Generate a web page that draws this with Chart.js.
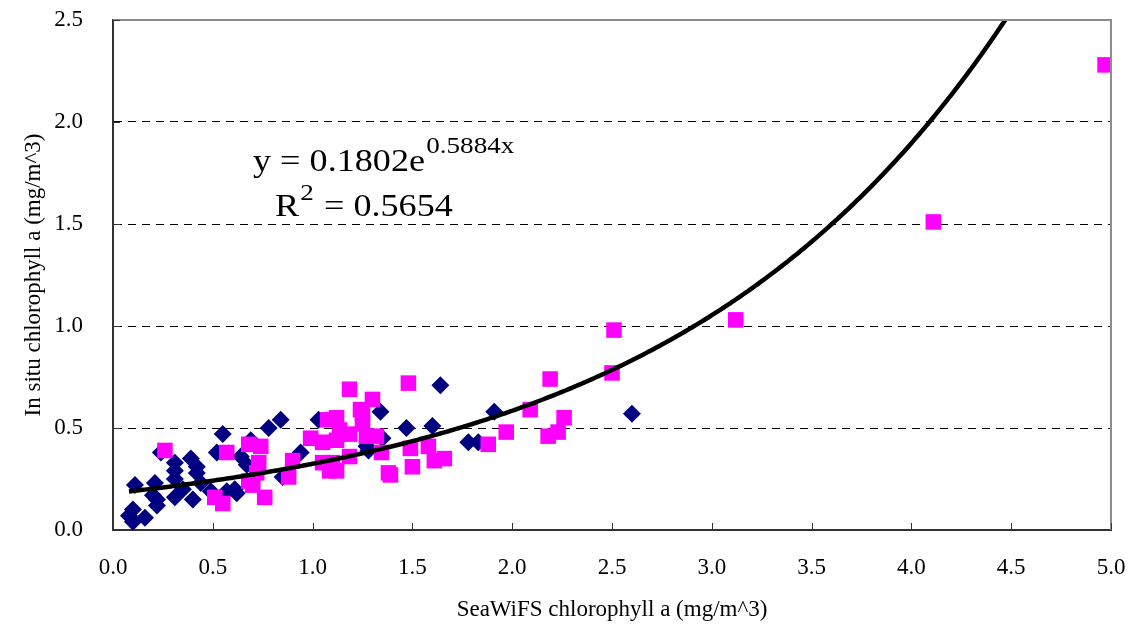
<!DOCTYPE html>
<html>
<head>
<meta charset="utf-8">
<title>SeaWiFS vs in situ chlorophyll a</title>
<script src="https://cdn.jsdelivr.net/npm/chart.js@4.4.1/dist/chart.umd.min.js"></script>
<style>
  html, body { margin: 0; padding: 0; background: #fff; }
  canvas { display: block; }
</style>
</head>
<body>
<canvas id="chl" width="1131" height="631"></canvas>
<script>
// match-up points: SeaWiFS chlorophyll (x) vs in situ chlorophyll (y), mg/m^3
const blueX = [0.10, 0.08, 0.10, 0.11, 0.16, 0.20, 0.21, 0.22, 0.22, 0.24,
               0.31, 0.31, 0.31, 0.31, 0.35, 0.39, 0.42, 0.42, 0.44, 0.40,
               0.49, 0.55, 0.52, 0.57, 0.61, 0.62, 0.64, 0.67, 0.69, 0.78,
               0.84, 0.85, 0.94, 1.03, 1.27, 1.28, 1.34, 1.35, 1.47, 1.60,
               1.64, 1.78, 1.83, 1.91, 2.60];
const blueY = [0.04, 0.07, 0.10, 0.22, 0.06, 0.17, 0.23, 0.15, 0.12, 0.38,
               0.33, 0.29, 0.25, 0.16, 0.20, 0.35, 0.31, 0.28, 0.23, 0.15,
               0.19, 0.47, 0.38, 0.19, 0.20, 0.18, 0.36, 0.32, 0.44, 0.50,
               0.54, 0.26, 0.38, 0.54, 0.41, 0.39, 0.58, 0.45, 0.50, 0.51,
               0.71, 0.43, 0.43, 0.58, 0.57];

const pinkX = [0.26, 0.51, 0.55, 0.57, 0.68, 0.74, 0.73, 0.72, 0.68, 0.70,
               0.76, 0.90, 0.88, 0.99, 1.05, 1.05, 1.10, 1.085, 1.12, 1.12,
               1.075, 1.12, 1.185, 1.135, 1.24, 1.25, 1.185, 1.185, 1.30, 1.25,
               1.27, 1.32, 1.345, 1.38, 1.39, 1.48, 1.49, 1.50, 1.58, 1.61,
               1.66, 1.88, 1.97, 2.09, 2.19, 2.18, 2.23, 2.26, 2.50, 2.51,
               3.12, 4.11, 4.97];
const pinkY = [0.39, 0.16, 0.13, 0.38, 0.42, 0.41, 0.33, 0.28, 0.24, 0.22,
               0.16, 0.34, 0.26, 0.45, 0.43, 0.33, 0.33, 0.29, 0.29, 0.55,
               0.54, 0.44, 0.47, 0.49, 0.59, 0.52, 0.69, 0.36, 0.64, 0.57,
               0.46, 0.46, 0.38, 0.28, 0.27, 0.72, 0.40, 0.31, 0.41, 0.34,
               0.35, 0.42, 0.48, 0.59, 0.74, 0.46, 0.48, 0.55, 0.77, 0.98,
               1.03, 1.51, 2.28];

const xTicks = [0, 0.5, 1, 1.5, 2, 2.5, 3, 3.5, 4, 4.5, 5];
const yTicks = [0, 0.5, 1, 1.5, 2, 2.5];

// exponential trendline fitted to all points
const FIT_A = 0.1802;
const FIT_B = 0.5884;
const FIT_R2 = 0.5654;

const toPoints = (xs, ys) => xs.map((x, i) => ({ x: x, y: ys[i] }));

const allX = blueX.concat(pinkX);
const fitStart = Math.min(...allX);
const fitEnd = Math.max(...allX);
const fitLine = [];
for (let x = fitStart; x <= fitEnd + 1e-9; x += 0.01) {
  fitLine.push({ x: x, y: FIT_A * Math.exp(FIT_B * x) });
}

const SERIF = "'Liberation Serif', 'Times New Roman', serif";
const STRETCH = 1.13;

// no extra room for overhanging tick labels, the layout padding covers it
const noLabelPadding = s => {
  s.paddingLeft = 0;
  s.paddingRight = 0;
  s.paddingTop = 0;
  s.paddingBottom = 0;
};

// tick marks pointing into the plot, plus the grey top/right frame
const frameAndTicks = {
  id: "frameAndTicks",
  afterDraw(chart) {
    const { ctx, chartArea: a, scales } = chart;
    ctx.save();
    ctx.strokeStyle = "#8c8c8c";
    ctx.lineWidth = 2;
    ctx.beginPath();
    ctx.moveTo(a.left, a.top);
    ctx.lineTo(a.right, a.top);
    ctx.lineTo(a.right, a.bottom);
    ctx.stroke();

    ctx.strokeStyle = "#333";
    ctx.lineWidth = 1;
    ctx.beginPath();
    scales.x.ticks.forEach(t => {
      const px = Math.round(scales.x.getPixelForValue(t.value)) + 0.5;
      ctx.moveTo(px, a.bottom);
      ctx.lineTo(px, a.bottom - 7);
    });
    scales.y.ticks.forEach(t => {
      const py = Math.round(scales.y.getPixelForValue(t.value)) + 0.5;
      ctx.moveTo(a.left, py);
      ctx.lineTo(a.left + 7, py);
    });
    ctx.stroke();
    ctx.restore();
  }
};

// fitted equation and R^2 written over the plot
const fitLabel = {
  id: "fitLabel",
  afterDatasetsDraw(chart) {
    const ctx = chart.ctx;
    const big = "32px " + SERIF;
    const small = "24px " + SERIF;

    ctx.save();
    ctx.fillStyle = "#000";
    ctx.textBaseline = "alphabetic";
    ctx.textAlign = "left";
    ctx.translate(253, 171);
    ctx.scale(STRETCH, 1);
    ctx.font = big;
    const head = "y = " + FIT_A.toFixed(4) + "e";
    ctx.fillText(head, 0, 0);
    const w1 = ctx.measureText(head).width;
    ctx.font = small;
    ctx.fillText(FIT_B.toFixed(4) + "x", w1 + 1, -18);
    ctx.restore();

    ctx.save();
    ctx.fillStyle = "#000";
    ctx.textBaseline = "alphabetic";
    ctx.textAlign = "left";
    ctx.translate(275, 216);
    ctx.scale(STRETCH, 1);
    ctx.font = big;
    ctx.fillText("R", 0, 0);
    const w2 = ctx.measureText("R").width;
    ctx.font = small;
    ctx.fillText("2", w2 + 1, -16);
    const w3 = ctx.measureText("2").width;
    ctx.font = big;
    ctx.fillText(" = " + FIT_R2.toFixed(4), w2 + w3 + 2, 0);
    ctx.restore();
  }
};

new Chart(document.getElementById("chl"), {
  type: "scatter",
  data: {
    datasets: [
      {
        label: "trend",
        type: "line",
        data: fitLine,
        borderColor: "#000",
        borderWidth: 4.5,
        pointRadius: 0,
        fill: false,
        clip: 0,
        order: 0
      },
      {
        label: "pink",
        data: toPoints(pinkX, pinkY),
        pointStyle: "rect",
        pointRadius: 11,
        backgroundColor: "#ff00ff",
        borderColor: "#ff00ff",
        borderWidth: 0,
        order: 1
      },
      {
        label: "navy",
        data: toPoints(blueX, blueY),
        pointStyle: "rectRot",
        pointRadius: 9,
        backgroundColor: "#000080",
        borderColor: "#000080",
        borderWidth: 0,
        order: 2
      }
    ]
  },
  options: {
    responsive: false,
    animation: false,
    devicePixelRatio: 1,
    layout: { padding: { top: 20, right: 20, left: 0, bottom: 0 } },
    plugins: {
      legend: { display: false },
      tooltip: { enabled: false }
    },
    scales: {
      x: {
        type: "linear",
        min: 0,
        max: 5,
        afterBuildTicks: s => { s.ticks = xTicks.map(v => ({ value: v })); },
        afterFit: s => { s.height = 101; noLabelPadding(s); },
        grid: { display: true, drawOnChartArea: false, drawTicks: false },
        border: { display: true, color: "#333", width: 2 },
        ticks: {
          padding: 24,
          color: "#000",
          font: { family: SERIF, size: 23 },
          callback: v => Number(v).toFixed(1)
        },
        title: {
          display: true,
          text: "SeaWiFS chlorophyll a (mg/m^3)",
          color: "#000",
          font: { family: SERIF, size: 23 },
          padding: { top: 0, bottom: 7 }
        }
      },
      y: {
        type: "linear",
        min: 0,
        max: 2.5,
        afterBuildTicks: s => { s.ticks = yTicks.map(v => ({ value: v })); },
        afterFit: s => { s.width = 113; noLabelPadding(s); },
        grid: {
          drawTicks: false,
          lineWidth: 1,
          color: c => (c.tick && (c.tick.value === 0 || c.tick.value === 2.5)) ? "rgba(0,0,0,0)" : "#000"
        },
        border: { display: true, color: "#333", width: 2, dash: [8, 6] },
        ticks: {
          padding: 30,
          color: "#000",
          font: { family: SERIF, size: 23 },
          callback: v => Number(v).toFixed(1)
        },
        title: {
          display: true,
          text: "In situ chlorophyll a (mg/m^3)",
          color: "#000",
          font: { family: SERIF, size: 23 },
          padding: { top: 20, bottom: 0 }
        }
      }
    }
  },
  plugins: [frameAndTicks, fitLabel]
});
</script>
</body>
</html>
